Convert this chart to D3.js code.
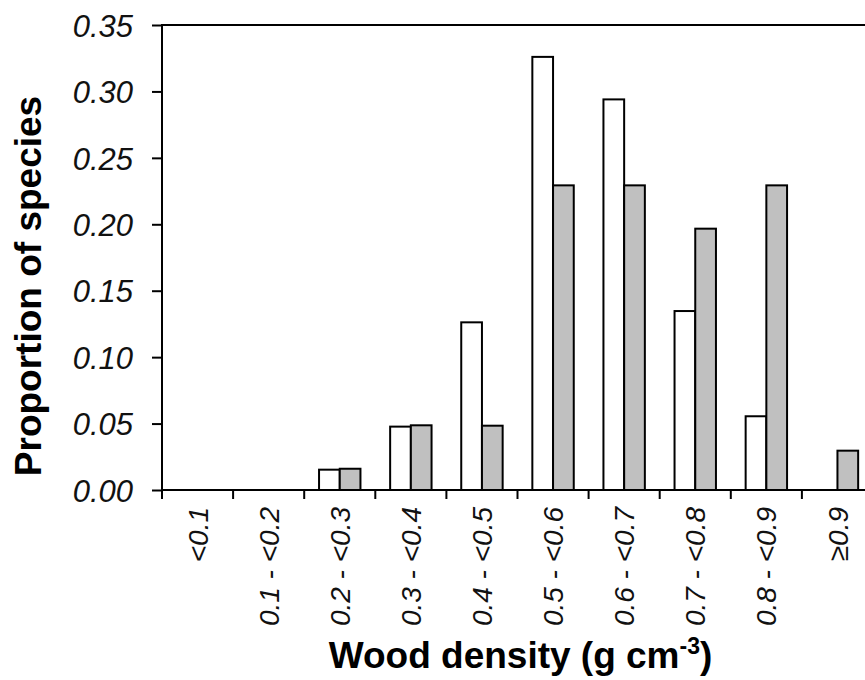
<!DOCTYPE html>
<html>
<head>
<meta charset="utf-8">
<script src="https://cdn.jsdelivr.net/npm/d3@7/dist/d3.min.js"></script>
<style>
html,body{margin:0;padding:0;background:#fff;overflow:hidden;}
svg{display:block;}
</style>
</head>
<body>
<svg id="chart" width="865" height="680"></svg>
<script>
const categories = ["<0.1","0.1 - <0.2","0.2 - <0.3","0.3 - <0.4","0.4 - <0.5","0.5 - <0.6","0.6 - <0.7","0.7 - <0.8","0.8 - <0.9","\u22650.9"];
const seriesNames = ["open","grey"];
const openValues = [0, 0, 0.0153, 0.0477, 0.1262, 0.326, 0.294, 0.1347, 0.0555, 0];
const greyValues = [0, 0, 0.016, 0.0487, 0.0484, 0.2293, 0.2293, 0.1967, 0.2293, 0.0296];
const yTicks = [0, 0.05, 0.10, 0.15, 0.20, 0.25, 0.30, 0.35];
const yTitle = "Proportion of species";

const svg = d3.select("#chart");
const pLeft = 162, pRight = 873, pTop = 25, pBottom = 490;

const x = d3.scaleBand().domain(categories).range([pLeft, pRight]).padding(0);
const x1 = d3.scaleBand().domain(seriesNames).range([0, x.bandwidth()]).paddingInner(0).paddingOuter(0.717);
const y = d3.scaleLinear().domain([0, 0.35]).range([pBottom, pTop]);

const fills = {open: "#ffffff", grey: "#c0c0c0"};
const data = categories.map((c, i) => ({cat: c, vals: [{s: "open", v: openValues[i]}, {s: "grey", v: greyValues[i]}]}));

// bars
const g = svg.append("g");
data.forEach(d => {
  d.vals.forEach(b => {
    if (b.v <= 0) return;
    g.append("rect")
      .attr("x", x(d.cat) + x1(b.s))
      .attr("y", y(b.v))
      .attr("width", x1.bandwidth())
      .attr("height", y(0) - y(b.v))
      .attr("fill", fills[b.s])
      .attr("stroke", "#000")
      .attr("stroke-width", 2);
  });
});

// frame
svg.append("rect").attr("x", pLeft).attr("y", pTop).attr("width", pRight - pLeft).attr("height", pBottom - pTop)
  .attr("fill", "none").attr("stroke", "#000").attr("stroke-width", 2);

// y axis
const yAxis = d3.axisLeft(y).tickValues(yTicks).tickSize(10).tickPadding(19).tickFormat(d3.format(".2f"));
const ya = svg.append("g").attr("transform", `translate(${pLeft},0)`).call(yAxis);
ya.select(".domain").remove();
ya.selectAll(".tick line").attr("stroke", "#000").attr("stroke-width", 2);
ya.selectAll(".tick text").attr("font-family", "'Liberation Sans', Arial, sans-serif")
  .attr("font-style", "italic").attr("font-size", 31).attr("fill", "#111").attr("dy", "0.36em");

// x axis ticks at band boundaries
const bounds = categories.map(c => x(c)).concat([x.range()[1]]);
svg.append("g").selectAll("line").data(bounds).join("line")
  .attr("x1", d => d).attr("x2", d => d).attr("y1", pBottom).attr("y2", pBottom + 9)
  .attr("stroke", "#000").attr("stroke-width", 2);

// x labels rotated
svg.append("g").selectAll("text").data(categories).join("text")
  .attr("transform", d => `translate(${x(d) + x.bandwidth() / 2},507) rotate(-90)`)
  .attr("text-anchor", "end").attr("dy", "0.36em")
  .attr("font-family", "'Liberation Sans', Arial, sans-serif")
  .attr("font-style", "italic").attr("font-size", 28).attr("fill", "#111")
  .text(d => d);

// y title
svg.append("text")
  .attr("transform", "translate(41,286) rotate(-90)")
  .attr("text-anchor", "middle")
  .attr("font-family", "'Liberation Sans', Arial, sans-serif")
  .attr("font-weight", "bold").attr("font-size", 37).attr("fill", "#000")
  .text(yTitle);

// x title with superscript
const xt = svg.append("text")
  .attr("x", (pLeft + pRight) / 2 + 3).attr("y", 668)
  .attr("text-anchor", "middle")
  .attr("font-family", "'Liberation Sans', Arial, sans-serif")
  .attr("font-weight", "bold").attr("font-size", 37).attr("fill", "#000");
xt.append("tspan").text("Wood density (g cm");
xt.append("tspan").attr("font-size", 23).attr("dy", -14).text("-3");
xt.append("tspan").attr("dy", 14).text(")");
</script>
</body>
</html>
